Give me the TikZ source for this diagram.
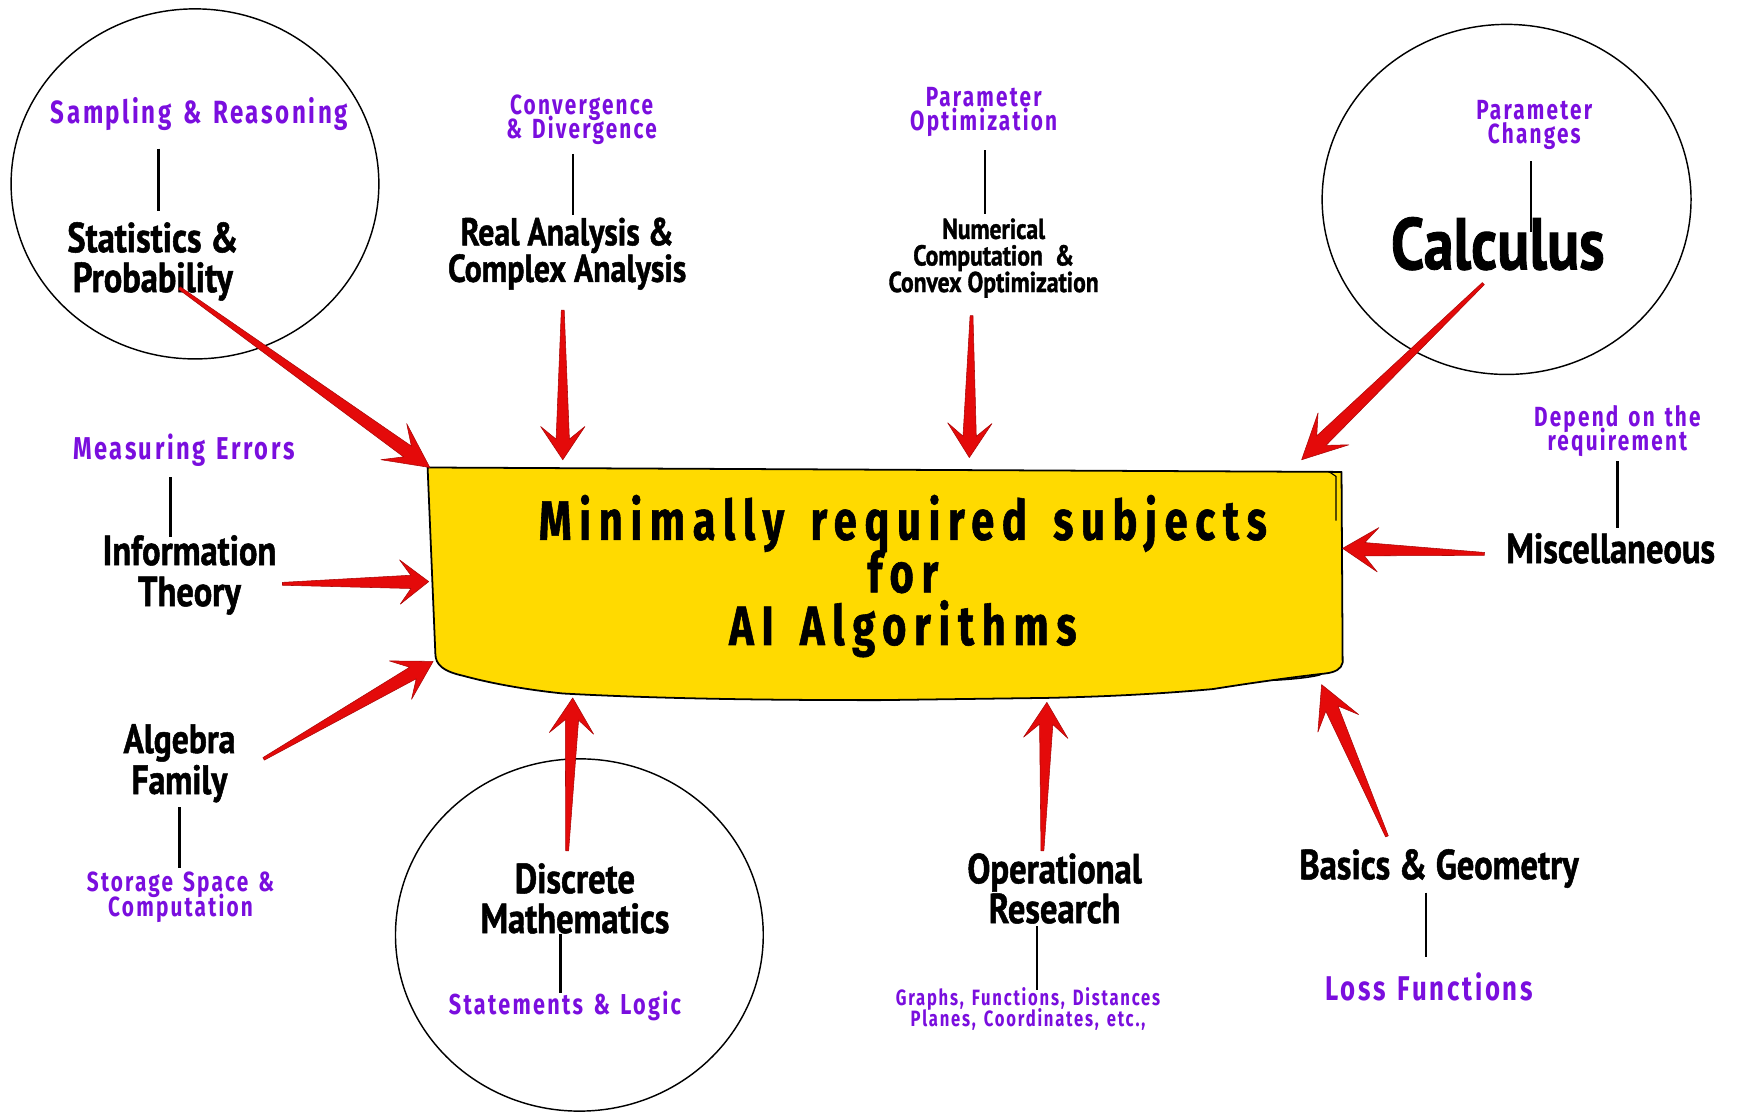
\documentclass[tikz,border=0pt]{standalone}
\usepackage{fontspec}
\usetikzlibrary{calc,shapes.geometric}
\newfontfamily\subjfont[FakeStretch=0.82,BoldFeatures={FakeBold=1.2}]{PT Sans}
\newfontfamily\labfont[FakeStretch=0.75,LetterSpace=8,WordSpace=1.4]{Fira Sans}
\newfontfamily\titlefont[FakeStretch=0.75,LetterSpace=14,WordSpace=1.5,BoldFeatures={FakeBold=1}]{Fira Sans}
\definecolor{boxyellow}{RGB}{255,218,0}
\definecolor{arrowred}{RGB}{228,10,10}
\definecolor{labpurple}{RGB}{122,14,222}
\newcommand{\fsz}[2]{\fontsize{#1}{#2}\selectfont\lineskiplimit=-100pt\relax}
\newcommand{\redarrow}[3]{%
  \pgfmathsetmacro{\necklen}{0.62*#3}%
  \filldraw[arrowstyle]
    ($(#1)!1.3pt!90:(#2)$) --
    ($(#2)!\necklen pt!(#1)!6pt!-90:(#1)$) --
    ($(#2)!#3pt!(#1)!20pt!-90:(#1)$) --
    (#2) --
    ($(#2)!#3pt!(#1)!20pt!90:(#1)$) --
    ($(#2)!\necklen pt!(#1)!6pt!90:(#1)$) --
    ($(#1)!1.3pt!-90:(#2)$) -- cycle;}
\begin{document}
\begin{tikzpicture}[x=1pt,y=-1pt,
  subj/.style 2 args={font=\subjfont\bfseries\fsz{#1}{#2}, align=center, inner sep=0pt, text=black},
  lab/.style 2 args={font=\labfont\bfseries\fsz{#1}{#2}, align=center, inner sep=0pt, text=labpurple},
  ring/.style={draw=black, ellipse, line width=1.3pt, inner sep=0pt},
  conn/.style={draw=black, line width=2.2pt},
  arrowstyle/.style={fill=arrowred, draw=arrowred!75!black, line width=0.5pt, line join=round},
  boxstyle/.style={fill=boxyellow, draw=black, line width=1.6pt, line join=round}]
\useasboundingbox (0,0) rectangle (1568,1005);
\fill[white] (0,0) rectangle (1568,1005);

% circles
\node[ring, minimum width=332pt, minimum height=316pt] (c1) at (176,166) {};
\node[ring, minimum width=333pt, minimum height=316pt] (c2) at (1360,180) {};
\node[ring, minimum width=332pt, minimum height=318pt] (c3) at (523,844) {};

% central box
\path[boxstyle] (386,422) -- (1211,426) -- (1212,598)
  .. controls (1211,604) and (1205,607) .. (1196,608)
  .. controls (1160,612) and (1120,618) .. (1095,622)
  .. controls (1040,627) and (990,629) .. (945,630)
  -- (794,632)
  .. controls (700,632) and (600,631) .. (508,626)
  .. controls (470,622) and (440,616) .. (418,610)
  .. controls (400,606) and (393,600) .. (393,590) -- cycle;
\draw[line width=1.4pt] (1150,614) .. controls (1170,613) and (1185,611) .. (1192,609);
\draw[line width=1pt] (1200,426) -- (1206,430) -- (1206,470);
\node[font=\titlefont\bfseries\fsz{50}{47.5}, align=center, inner sep=0pt] (title) at (815,520)
  {Minimally required subjects\\for\\AI Algorithms};

% text nodes
\node[lab={29}{29}] (sampling) at (180,103) {Sampling \& Reasoning};
\node[subj={38}{36}] (stats) at (138,236) {Statistics \&\\Probability};
\node[lab={25}{22}] (conv) at (525,108) {Convergence\\\& Divergence};
\node[subj={35}{33}] (real) at (512,229) {Real Analysis \&\\Complex Analysis};
\node[lab={25}{22}] (paropt) at (888,101) {Parameter\\Optimization};
\node[subj={26}{24}] (numer) at (897,233) {Numerical\\Computation~~\&\\Convex Optimization};
\node[lab={25}{22}] (parch) at (1385,113) {Parameter\\Changes};
\node[subj={66}{66}] (calc) at (1352,220) {Calculus};
\node[lab={28.5}{28}] (meas) at (166,406) {Measuring Errors};
\node[subj={38}{37}] (info) at (171,519) {Information\\Theory};
\node[subj={37}{37}] (algebra) at (162,689) {Algebra\\Family};
\node[lab={25}{22}] (storage) at (163,810) {Storage Space \&\\Computation};
\node[lab={25}{22}] (depend) at (1460,389) {Depend on the\\requirement};
\node[subj={38}{36}] (misc) at (1454,495) {Miscellaneous};
\node[subj={38}{36}] (discrete) at (519,811) {Discrete\\Mathematics};
\node[lab={26}{26}] (statements) at (510,908) {Statements \& Logic};
\node[subj={38}{36}] (opres) at (952,802) {Operational\\Research};
\node[lab={20}{19}] (graphs) at (928,911) {Graphs, Functions, Distances\\Planes, Coordinates, etc.,};
\node[subj={38}{36}] (basics) at (1299,784) {Basics \& Geometry};
\node[lab={31}{31}] (loss) at (1290,891) {Loss Functions};

% black connectors
\draw[conn, shorten <=16pt, shorten >=10pt] (sampling.south -| 143,0) -- (stats.north -| 143,0);
\draw[conn, shorten <=8pt, shorten >=2pt] (conv.south -| 517,0) -- (real.north -| 517,0);
\draw[conn, shorten <=12pt, shorten >=4pt] (paropt.south -| 889,0) -- (numer.north -| 889,0);
\draw[conn, shorten <=10pt, shorten >=-14pt] (parch.south -| 1382,0) -- (calc.north -| 1382,0);
\draw[conn, shorten <=10pt, shorten >=-2pt] (meas.south -| 154,0) -- (info.north -| 154,0);
\draw[conn, shorten <=4pt, shorten >=4pt] (algebra.south -| 162,0) -- (storage.north -| 162,0);
\draw[conn, shorten <=4pt, shorten >=4pt] (depend.south -| 1460,0) -- (misc.north -| 1460,0);
\draw[conn, shorten <=0pt, shorten >=-2pt] (discrete.south -| 506,0) -- (statements.north -| 506,0);
\draw[conn, shorten <=2pt, shorten >=-2pt] (opres.south -| 936,0) -- (graphs.north -| 936,0);
\draw[conn, shorten <=4pt, shorten >=14pt] (basics.south -| 1287,0) -- (loss.north -| 1287,0);

% arrow ends
\coordinate (s1) at (162,260);  \coordinate (e1) at (388,422);
\coordinate (s2) at (508,280);  \coordinate (e2) at (508,415);
\coordinate (s3) at (877,285);  \coordinate (e3) at (875,413);
\coordinate (s4) at (1339,256); \coordinate (e4) at (1175,415);
\coordinate (s5) at (1340,500); \coordinate (e5) at (1212,495);
\coordinate (s6) at (255,527);  \coordinate (e6) at (387,525);
\coordinate (s7) at (238,685);  \coordinate (e7) at (391,597);
\coordinate (s8) at (512,768);  \coordinate (e8) at (517,630);
\coordinate (s9) at (941,768);  \coordinate (e9) at (945,634);
\coordinate (s10) at (1252,755); \coordinate (e10) at (1193,618);

\redarrow{s1}{e1}{40}
\redarrow{s2}{e2}{30}
\redarrow{s3}{e3}{31}
\redarrow{s4}{e4}{40}
\redarrow{s5}{e5}{32}
\redarrow{s6}{e6}{26}
\redarrow{s7}{e7}{34}
\redarrow{s8}{e8}{32}
\redarrow{s9}{e9}{32}
\redarrow{s10}{e10}{38}
\end{tikzpicture}
\end{document}
